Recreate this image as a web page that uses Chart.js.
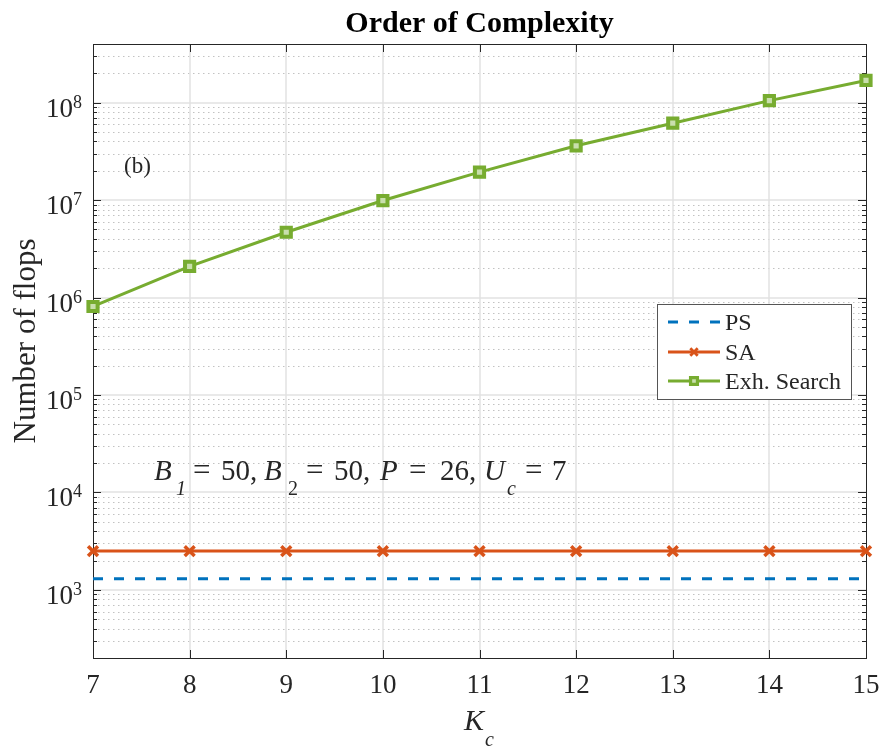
<!DOCTYPE html>
<html>
<head>
<meta charset="utf-8">
<title>Order of Complexity</title>
<script src="https://cdn.jsdelivr.net/npm/chart.js@4/dist/chart.umd.min.js"></script>
<style>
  html, body { margin: 0; padding: 0; background: #fff; }
  #wrap { width: 883px; height: 746px; }
</style>
</head>
<body>
<div id="wrap"><canvas id="chart" width="883" height="746"></canvas></div>
<script>
// ─── Data ────────────────────────────────────────────────
const kValues   = [7, 8, 9, 10, 11, 12, 13, 14, 15];
const psFlops   = [1300, 1300, 1300, 1300, 1300, 1300, 1300, 1300, 1300];
const saFlops   = [2500, 2500, 2500, 2500, 2500, 2500, 2500, 2500, 2500];
const exhFlops  = [8.1e5, 2.09e6, 4.68e6, 9.9e6, 1.94e7, 3.61e7, 6.16e7, 1.05e8, 1.69e8];
const yDecades  = [3, 4, 5, 6, 7, 8];          // labelled ticks 10^3 … 10^8
const seriesNames = ["PS", "SA", "Exh. Search"];

const Y_MIN = 200, Y_MAX = 4e8;
const SERIF = '"Liberation Serif", "Times New Roman", serif';
const INK = "#262626";

function pts(values) {
  return kValues.map((k, i) => ({ x: k, y: values[i] }));
}

// ─── Axes, grid and annotations (MATLAB-like look) ───────
function hline(ctx, x0, x1, y) {
  ctx.beginPath(); ctx.moveTo(x0, y); ctx.lineTo(x1, y); ctx.stroke();
}
function vline(ctx, x, y0, y1) {
  ctx.beginPath(); ctx.moveTo(x, y0); ctx.lineTo(x, y1); ctx.stroke();
}

// TeX-ish parameter string, each piece placed at its own x
const IT = `italic 29px ${SERIF}`, RM = `29px ${SERIF}`, EQ = `31px ${SERIF}`;
const SUBI = `italic 20px ${SERIF}`, SUBR = `20px ${SERIF}`;
const paramRuns = [
  ["B", IT, 154, 0], ["1", SUBI, 176, 15], ["=", EQ, 193, 0], ["50,", RM, 221, 0],
  ["B", IT, 264, 0], ["2", SUBR, 288, 15], ["=", EQ, 306, 0], ["50,", RM, 334, 0],
  ["P", IT, 380, 0], ["=", EQ, 409, 0], ["26,", RM, 440, 0],
  ["U", IT, 484, 0], ["c", SUBI, 507, 15], ["=", EQ, 525, 0], ["7", RM, 552, 0]
];

const axesPlugin = {
  id: "matlabAxes",
  beforeDatasetsDraw(chart) {
    const { ctx, chartArea: a, scales: { x, y } } = chart;
    ctx.save();

    // minor dotted grid
    ctx.strokeStyle = "#c2c2c2";
    ctx.lineWidth = 1;
    ctx.setLineDash([1.5, 3.5]);
    const minors = [];
    for (let e = 2; e <= 8; e++) {
      for (let m = 2; m <= 9; m++) {
        const v = m * Math.pow(10, e);
        if (v > Y_MIN && v < Y_MAX) minors.push(v);
      }
    }
    minors.forEach(v => hline(ctx, a.left, a.right, Math.round(y.getPixelForValue(v)) + 0.5));

    // major solid grid
    ctx.setLineDash([]);
    ctx.strokeStyle = "#e2e2e2";
    ctx.lineWidth = 1.5;
    yDecades.forEach(e => hline(ctx, a.left, a.right, Math.round(y.getPixelForValue(Math.pow(10, e)))));
    kValues.slice(1, -1).forEach(k => vline(ctx, Math.round(x.getPixelForValue(k)), a.top, a.bottom));

    // box and inward ticks
    ctx.strokeStyle = INK;
    ctx.lineWidth = 1;
    ctx.strokeRect(Math.round(a.left) + 0.5, Math.round(a.top) + 0.5,
                   Math.round(a.right - a.left), Math.round(a.bottom - a.top));
    minors.forEach(v => {
      const py = Math.round(y.getPixelForValue(v)) + 0.5;
      hline(ctx, a.left, a.left + 4, py);
      hline(ctx, a.right - 4, a.right, py);
    });
    yDecades.forEach(e => {
      const py = Math.round(y.getPixelForValue(Math.pow(10, e))) + 0.5;
      hline(ctx, a.left, a.left + 8, py);
      hline(ctx, a.right - 8, a.right, py);
    });
    kValues.forEach(k => {
      const px = Math.round(x.getPixelForValue(k)) + 0.5;
      vline(ctx, px, a.bottom, a.bottom - 8);
      vline(ctx, px, a.top, a.top + 8);
    });
    ctx.restore();
  },

  afterDatasetsDraw(chart) {
    const { ctx, chartArea: a, scales: { x, y } } = chart;
    ctx.save();
    ctx.fillStyle = INK;
    ctx.textBaseline = "alphabetic";

    // y tick labels 10^n
    yDecades.forEach(e => {
      const py = y.getPixelForValue(Math.pow(10, e));
      ctx.font = `18px ${SERIF}`;
      const we = ctx.measureText(String(e)).width;
      ctx.font = `27px ${SERIF}`;
      const wb = ctx.measureText("10").width;
      const right = a.left - 11;
      ctx.fillText("10", right - we - wb, py + 14);
      ctx.font = `18px ${SERIF}`;
      ctx.fillText(String(e), right - we, py + 5);
    });

    // x tick labels
    ctx.font = `27px ${SERIF}`;
    ctx.textAlign = "center";
    kValues.forEach(k => ctx.fillText(String(k), x.getPixelForValue(k), a.bottom + 35));

    // title
    ctx.font = `bold 30px ${SERIF}`;
    ctx.fillStyle = "#000";
    ctx.fillText("Order of Complexity", (a.left + a.right) / 2, 32);
    ctx.fillStyle = INK;

    // x axis title: K_c
    ctx.textAlign = "left";
    ctx.font = `italic 30px ${SERIF}`;
    ctx.fillText("K", 464, 730);
    ctx.font = `italic 20px ${SERIF}`;
    ctx.fillText("c", 485, 746);

    // y axis title
    ctx.save();
    ctx.translate(35, (a.top + a.bottom) / 2 - 10);
    ctx.rotate(-Math.PI / 2);
    ctx.textAlign = "center";
    ctx.font = `31px ${SERIF}`;
    ctx.fillText("Number of flops", 0, 0);
    ctx.restore();

    // panel tag
    ctx.font = `23px ${SERIF}`;
    ctx.fillText("(b)", 124, 173);

    // parameter annotation
    paramRuns.forEach(([txt, font, px, dy]) => {
      ctx.font = font;
      ctx.fillText(txt, px, 480 + dy);
    });

    // legend box
    const lx = 657, ly = 304, lw = 194, lh = 95;
    ctx.fillStyle = "#fff";
    ctx.fillRect(lx, ly, lw, lh);
    ctx.strokeStyle = "#555";
    ctx.lineWidth = 1;
    ctx.strokeRect(lx + 0.5, ly + 0.5, lw, lh);
    const rows = [322, 352, 381];
    chart.data.datasets.forEach((ds, i) => {
      const ry = rows[i];
      ctx.strokeStyle = ds.borderColor;
      ctx.lineWidth = ds.borderWidth;
      ctx.setLineDash(ds.borderDash || []);
      hline(ctx, 668, 720, ry);
      ctx.setLineDash([]);
      if (ds.pointRadius > 0) {
        ctx.fillStyle = ds.pointBackgroundColor;
        ctx.strokeStyle = ds.borderColor;
        ctx.lineWidth = ds.pointBorderWidth * 0.8;
        Chart.helpers.drawPoint(ctx, {
          pointStyle: ds.pointStyle, radius: ds.pointRadius * 0.75,
          borderWidth: ds.pointBorderWidth, rotation: 0
        }, 694, ry);
      }
      ctx.fillStyle = INK;
      ctx.font = `24px ${SERIF}`;
      ctx.fillText(ds.label, 725, ry + 8);
    });

    ctx.restore();
  }
};

// ─── Chart ───────────────────────────────────────────────
new Chart(document.getElementById("chart").getContext("2d"), {
  type: "line",
  data: {
    datasets: [
      {
        label: seriesNames[0],
        data: pts(psFlops),
        borderColor: "#0072BD",
        borderWidth: 3,
        borderDash: [10, 11],
        pointRadius: 0,
        clip: false
      },
      {
        label: seriesNames[1],
        data: pts(saFlops),
        borderColor: "#D95319",
        borderWidth: 3,
        pointStyle: "crossRot",
        pointRadius: 7,
        pointBorderWidth: 3.5,
        pointBackgroundColor: "#D95319",
        pointBorderColor: "#D95319",
        clip: false
      },
      {
        label: seriesNames[2],
        data: pts(exhFlops),
        borderColor: "#77AC30",
        borderWidth: 3,
        pointStyle: "rect",
        pointRadius: 6.5,
        pointBorderWidth: 4,
        pointBackgroundColor: "#c9dfad",
        pointBorderColor: "#77AC30",
        clip: false
      }
    ]
  },
  options: {
    responsive: false,
    animation: false,
    layout: { padding: { left: 93, right: 17, top: 44, bottom: 88 } },
    scales: {
      x: { type: "linear", min: kValues[0], max: kValues[kValues.length - 1], display: false },
      y: { type: "logarithmic", min: Y_MIN, max: Y_MAX, display: false }
    },
    plugins: {
      legend: { display: false },
      title: { display: false },
      tooltip: { enabled: false }
    }
  },
  plugins: [axesPlugin]
});
</script>
</body>
</html>
